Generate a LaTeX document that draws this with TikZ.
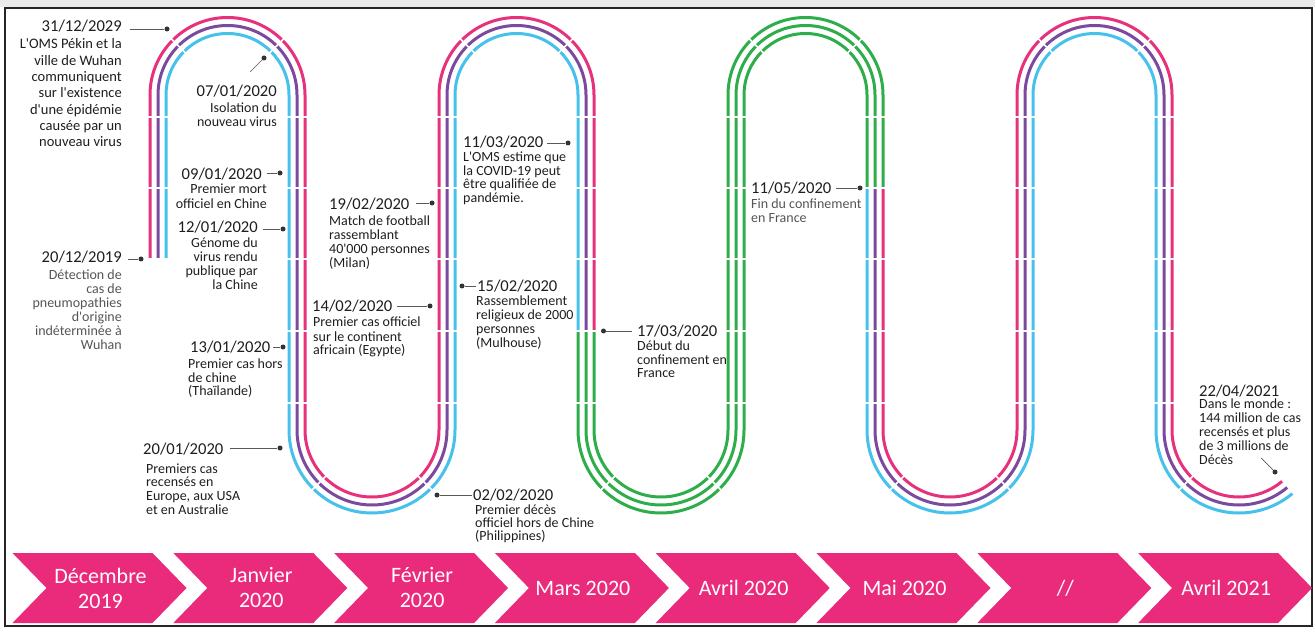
\documentclass[tikz,border=0pt]{standalone}
\usepackage{fontspec}
\setmainfont{Carlito}
\definecolor{tpink}{HTML}{E8317B}
\definecolor{tpurple}{HTML}{7B4A9E}
\definecolor{tcyan}{HTML}{45C1EC}
\definecolor{tgreen}{HTML}{2EAD4B}
\definecolor{chev}{HTML}{EA2A7B}
\definecolor{txt}{HTML}{1E1E1E}
\definecolor{txtg}{HTML}{555555}
\newcommand\aq{\textquotesingle}
\newcommand\Rl[2]{\vtop{\baselineskip=#1pt\lineskiplimit=-100pt\halign{\hfil##\cr#2\crcr}}}
\newcommand\Ll[2]{\vtop{\baselineskip=#1pt\lineskiplimit=-100pt\halign{##\hfil\cr#2\crcr}}}
\begin{document}
\begin{tikzpicture}[x=1pt,y=1pt,
  trk/.style={line width=3pt},
  tk/.style={white,line width=1.5pt},
  dotn/.style={circle,fill=black!80,inner sep=0pt,minimum size=5pt},
  leader/.style={draw=black!65,line width=0.7pt},
  dte/.style={font=\fontsize{16.6}{18}\selectfont,text=txt,inner sep=0pt},
  bdy/.style={font=\fontsize{14}{14}\selectfont,text=txt,inner sep=0pt},
  bdyg/.style={bdy,text=txtg},
  chevt/.style={font=\fontsize{22}{25}\selectfont,text=white,align=center,inner sep=0pt}]
\useasboundingbox (0,0) rectangle (1315,-628);
\fill[black!8] (0,0) rectangle (1315,-7);
\draw[black!85,line width=1.8pt] (5,-8) rectangle (1312,-626);

% track
\foreach \c/\ra in {tpink/77.5,tpurple/69.5,tcyan/61.5}{
  \pgfmathsetmacro\ru{144.5-\ra}
  \draw[trk,color=\c] ({227.5-\ra},-258) -- ({227.5-\ra},-95) arc[start angle=180,end angle=0,radius=\ra pt]
     -- ({227.5+\ra},-430) arc[start angle=180,end angle=360,radius=\ru pt]
     -- ({516.5-\ra},-95) arc[start angle=180,end angle=0,radius=\ra pt] -- ({516.5+\ra},-331);
  \draw[trk,color=tgreen] ({516.5+\ra},-331) -- ({516.5+\ra},-430) arc[start angle=180,end angle=360,radius=\ru pt]
     -- ({805.5-\ra},-95) arc[start angle=180,end angle=0,radius=\ra pt] -- ({805.5+\ra},-188);
  \draw[trk,color=\c] ({805.5+\ra},-188) -- ({805.5+\ra},-430) arc[start angle=180,end angle=360,radius=\ru pt]
     -- ({1094.5-\ra},-95) arc[start angle=180,end angle=0,radius=\ra pt]
     -- ({1094.5+\ra},-430) arc[start angle=180,end angle=310,radius=\ru pt];
}
% segment ticks
\foreach \Lc in {227.5,516.5,805.5,1094.5}{
  \foreach \y in {117,188,259,331,403}{
    \draw[tk] ({\Lc+59},-\y) -- ({\Lc+80},-\y);
  }
  \foreach \a in {45,135}{
    \draw[tk,shift={(\Lc,-95)}] (\a:57pt) -- (\a:81pt);
  }
}
\foreach \Lc in {516.5,805.5,1094.5}{
  \foreach \y in {117,188,259,331,403}{
    \draw[tk] ({\Lc-80},-\y) -- ({\Lc-59},-\y);
  }
}
\foreach \y in {117,188}{ \draw[tk] (147,-\y) -- (169,-\y); }
\foreach \Uc/\a in {372/225,372/315,661/225,661/315,950/225,950/315,1239/225}{
  \draw[tk,shift={(\Uc,-430)}] (\a:63pt) -- (\a:87pt);
}

% labels
\node[dte,anchor=base east] (tA) at (122,-32) {31/12/2029};
\node[bdy,font=\fontsize{14.5}{14.5}\selectfont,anchor=base east] (bA) at (122,-49)
  {\Rl{16.3}{L\aq OMS Pékin et la\cr ville de Wuhan\cr communiquent\cr sur l\aq existence\cr d\aq une épidémie\cr causée par un\cr nouveau virus}};
\coordinate (a1) at (130,-29); \node[dotn] (dA) at (167,-29) {};
\draw[leader] (a1) -- (dA);

\node[dte,anchor=base east] (tB) at (277,-97) {07/01/2020};
\node[bdy,anchor=base east] (bB) at (277,-112.5) {\Rl{14.5}{Isolation du\cr nouveau virus}};
\coordinate (b1) at (250,-72); \node[dotn] (dB) at (264,-58) {};
\draw[leader] (b1) -- (dB);

\node[dte,anchor=base east] (tC) at (262,-180) {09/01/2020};
\node[bdy,anchor=base east] (bC) at (267,-194) {\Rl{15}{Premier mort\cr officiel en Chine}};
\coordinate (c1) at (267,-173); \node[dotn] (dC) at (280,-173) {};
\draw[leader] (c1) -- (dC);

\node[dte,anchor=base east] (tD) at (258,-233) {12/01/2020};
\node[bdy,anchor=base east] (bD) at (258,-248) {\Rl{14}{Génome du\cr virus rendu\cr publique par\cr la Chine}};
\coordinate (d1) at (263,-229); \node[dotn] (dD) at (283,-229) {};
\draw[leader] (d1) -- (dD);

\node[dte,anchor=base east] (tE) at (122,-263) {20/12/2019};
\node[bdyg,anchor=base east] (bE) at (122,-280) {\Rl{14}{Détection de\cr cas de\cr pneumopathies\cr d\aq origine\cr indéterminée à\cr Wuhan}};
\coordinate (e1) at (128,-259); \node[dotn] (dE) at (141,-259) {};
\draw[leader] (e1) -- (dE);

\node[dte,anchor=base west] (tF) at (190,-352.7) {13/01/2020};
\node[bdy,anchor=base west] (bF) at (188,-368) {\Ll{14}{Premier cas hors\cr de chine\cr (Thaïlande)}};
\coordinate (f1) at (273,-347); \node[dotn] (dF) at (283,-347) {};
\draw[leader] (f1) -- (dF);

\node[dte,anchor=base west] (tG) at (143,-454) {20/01/2020};
\node[bdy,anchor=base west] (bG) at (146,-473) {\Ll{13.8}{Premiers cas\cr recensés en\cr Europe, aux USA\cr et en Australie}};
\coordinate (g1) at (230,-448); \node[dotn] (dG) at (280,-448) {};
\draw[leader] (g1) -- (dG);

\node[dte,anchor=base west] (tH) at (312,-311.7) {14/02/2020};
\node[bdy,anchor=base west] (bH) at (313,-327) {\Ll{14}{Premier cas officiel\cr sur le continent\cr africain (Egypte)}};
\coordinate (h1) at (397,-306); \node[dotn] (dH) at (430,-306) {};
\draw[leader] (h1) -- (dH);

\node[dte,anchor=base west] (tI) at (329,-210) {19/02/2020};
\node[bdy,anchor=base west] (bI) at (329,-226) {\Ll{14}{Match de football\cr rassemblant\cr 40\aq 000 personnes\cr (Milan)}};
\coordinate (i1) at (416,-203); \node[dotn] (dI) at (432,-203) {};
\draw[leader] (i1) -- (dI);

\node[dte,anchor=base west] (tJ) at (477,-292) {15/02/2020};
\node[bdy,anchor=base west] (bJ) at (476,-305.5) {\Ll{14}{Rassemblement\cr religieux de 2000\cr personnes\cr (Mulhouse)}};
\coordinate (j1) at (476,-286); \node[dotn] (dJ) at (462,-286) {};
\draw[leader] (dJ) -- (j1);

\node[dte,anchor=base west] (tK) at (463,-148) {11/03/2020};
\node[bdy,anchor=base west] (bK) at (463,-161.5) {\Ll{13.7}{L\aq OMS estime que\cr la COVID-19 peut\cr être qualifiée de\cr pandémie.}};
\coordinate (k1) at (547,-143); \node[dotn] (dK) at (568,-143) {};
\draw[leader] (k1) -- (dK);

\node[dte,anchor=base west] (tL) at (637,-337) {17/03/2020};
\node[bdy,anchor=base west] (bL) at (637,-351) {\Ll{13.5}{Début du\cr confinement en\cr France}};
\coordinate (l1) at (632,-331); \node[dotn] (dL) at (603.5,-331) {};
\draw[leader] (dL) -- (l1);

\node[dte,anchor=base west] (tM) at (751,-194) {11/05/2020};
\node[bdyg,anchor=base west] (bM) at (751,-208.5) {\Ll{14}{Fin du confinement\cr en France}};
\coordinate (m1) at (836,-188); \node[dotn] (dM) at (860,-188) {};
\draw[leader] (m1) -- (dM);

\node[dte,anchor=base west] (tN) at (473,-500) {02/02/2020};
\node[bdy,anchor=base west] (bN) at (475,-514) {\Ll{13}{Premier décès\cr officiel hors de Chine\cr (Philippines)}};
\coordinate (n1) at (472,-495); \node[dotn] (dN) at (437,-495) {};
\draw[leader] (dN) -- (n1);

\node[dte,anchor=base west] (tO) at (1199,-396) {22/04/2021};
\node[bdy,anchor=base west] (bO) at (1199,-408.5) {\Ll{14}{Dans le monde :\cr 144 million de cas\cr recensés et plus\cr de 3 millions de\cr Décès}};
\coordinate (o1) at (1261,-458); \node[dotn] (dO) at (1275,-472) {};
\draw[leader] (o1) -- (dO);

% chevrons
\foreach \i in {0,...,7}{
  \pgfmathsetmacro\xo{12.5+\i*160.8}
  \fill[chev] (\xo,-553) -- ({\xo+140},-553) -- ({\xo+174},-588) -- ({\xo+140},-623)
     -- (\xo,-623) -- ({\xo+34},-588) -- cycle;
}
\node[chevt] (ch0) at (100.5,-588) {Décembre\\2019};
\node[chevt] (ch1) at (261.3,-588) {Janvier\\2020};
\node[chevt] (ch2) at (422.1,-588) {Février\\2020};
\node[chevt] (ch3) at (582.9,-588) {Mars 2020};
\node[chevt] (ch4) at (743.7,-588) {Avril 2020};
\node[chevt] (ch5) at (904.5,-588) {Mai 2020};
\node[chevt] (ch6) at (1065.3,-588) {//};
\node[chevt] (ch7) at (1226.1,-588) {Avril 2021};
\end{tikzpicture}
\end{document}
